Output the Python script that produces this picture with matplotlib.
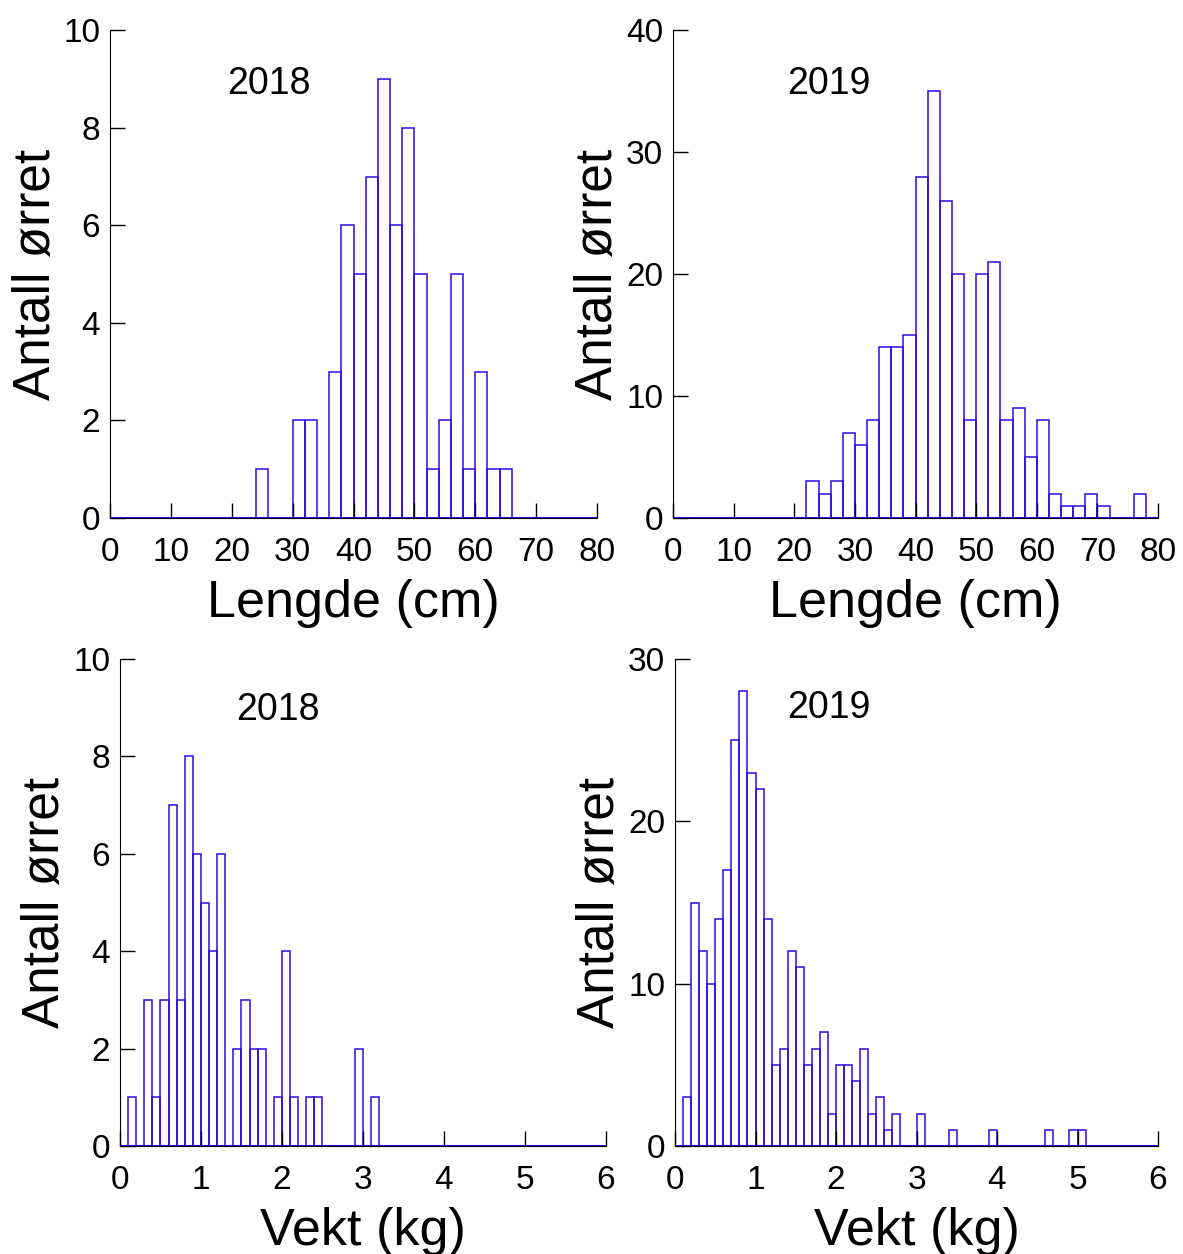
import numpy as np
import matplotlib.pyplot as plt

plt.rcParams['font.family'] = ['Liberation Sans', 'DejaVu Sans']

# Lengde (cm), 2 cm bins
len_2018_start = 24
len_2018 = [1, 0, 0, 2, 2, 0, 3, 6, 5, 7, 9, 6, 8, 5, 1, 2, 5, 1, 3, 1, 1]
len_2019_start = 22
len_2019 = [3, 2, 3, 7, 6, 8, 14, 14, 15, 28, 35, 26, 20, 8, 20, 21, 8, 9, 5, 8,
            2, 1, 1, 2, 1, 0, 0, 2]

# Vekt (kg), 0.1 kg bins
vekt_2018_start = 0.1
vekt_2018 = [1, 0, 3, 1, 3, 7, 3, 8, 6, 5, 4, 6, 0, 2, 3, 2, 2, 0, 1, 4,
             1, 0, 1, 1, 0, 0, 0, 0, 2, 0, 1]
vekt_2019_start = 0.1
vekt_2019 = [3, 15, 12, 10, 14, 17, 25, 28, 23, 22, 14, 5, 6, 12, 11, 5, 6, 7, 2, 5,
             5, 4, 6, 2, 3, 1, 2, 0, 0, 2, 0, 0, 0, 1, 0, 0, 0, 0, 1, 0,
             0, 0, 0, 0, 0, 1, 0, 0, 1, 1]

blue = '#2a0ce8'

fig = plt.figure(figsize=(11.83, 12.54), dpi=100)
positions = [
    [0.093, 0.5869, 0.4117, 0.389],
    [0.5689, 0.5869, 0.41, 0.389],
    [0.1014, 0.0861, 0.4108, 0.3884],
    [0.5706, 0.0861, 0.4083, 0.3884],
]
panels = [
    (len_2018_start, len_2018, 2, (0, 80), np.arange(0, 81, 10), (0, 10), np.arange(0, 11, 2),
     'Lengde (cm)', '2018', (26.1, 8.9)),
    (len_2019_start, len_2019, 2, (0, 80), np.arange(0, 81, 10), (0, 40), np.arange(0, 41, 10),
     'Lengde (cm)', '2019', (25.7, 35.6)),
    (vekt_2018_start, vekt_2018, 0.1, (0, 6), np.arange(0, 7, 1), (0, 10), np.arange(0, 11, 2),
     'Vekt (kg)', '2018', (1.95, 8.95)),
    (vekt_2019_start, vekt_2019, 0.1, (0, 6), np.arange(0, 7, 1), (0, 30), np.arange(0, 31, 10),
     'Vekt (kg)', '2019', (1.91, 27.0)),
]

for pos, (start, counts, w, xlim, xticks, ylim, yticks, xlabel, year, ypos) in zip(positions, panels):
    ax = fig.add_axes(pos)
    edges = start + w * np.arange(len(counts))
    ax.bar(edges, counts, width=w, align='edge', fill=False, edgecolor=blue, linewidth=1.1)
    ax.axhline(0, color=blue, linewidth=1.5, zorder=3)
    ax.set_xlim(xlim)
    ax.set_ylim(ylim)
    ax.set_xticks(xticks)
    ax.set_yticks(yticks)
    ax.spines['top'].set_visible(False)
    ax.spines['right'].set_visible(False)
    ax.tick_params(direction='in', length=10.5, width=1, labelsize=24)
    ax.tick_params(axis='x', pad=13.5)
    ax.tick_params(axis='y', pad=7)
    ax.set_xlabel(xlabel, fontsize=37.5, labelpad=8)
    ax.set_ylabel('Antall ørret', fontsize=37, labelpad=2)
    ax.text(ypos[0], ypos[1], year, fontsize=27, ha='center', va='center')

fig.savefig('out.png', dpi=100)
